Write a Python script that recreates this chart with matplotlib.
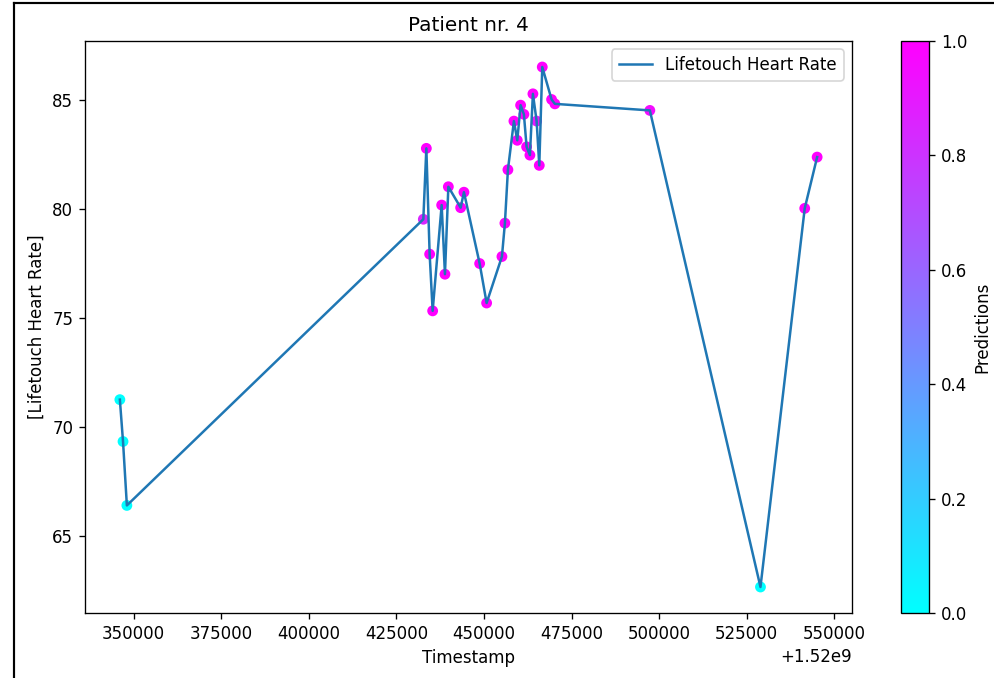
import numpy as np
import matplotlib
matplotlib.use("Agg")
import matplotlib.pyplot as plt
from matplotlib.lines import Line2D

# timestamps (s) and heart rate readings
timestamps = [
    1520346100, 1520347000, 1520348100, 1520432700, 1520433560, 1520434500,
    1520435360, 1520437930, 1520438870, 1520439840, 1520443350, 1520444290,
    1520448770, 1520450760, 1520455130, 1520455980, 1520456840, 1520458550,
    1520459510, 1520460460, 1520461400, 1520462170, 1520463110, 1520463970,
    1520465030, 1520465790, 1520466640, 1520469300, 1520470240, 1520497340,
    1520528910, 1520541540, 1520545080,
]
heart_rate = [
    71.27, 69.35, 66.42, 79.54, 82.79, 77.94,
    75.34, 80.19, 77.02, 81.03, 80.07, 80.78,
    77.51, 75.70, 77.83, 79.36, 81.81, 84.04,
    83.16, 84.77, 84.35, 82.86, 82.48, 85.29,
    84.04, 82.01, 86.52, 85.03, 84.83, 84.53,
    62.68, 80.04, 82.39,
]
predictions = [
    0.0, 0.0, 0.0, 0.85, 1.0, 1.0,
    1.0, 1.0, 1.0, 1.0, 1.0, 1.0,
    1.0, 1.0, 1.0, 1.0, 1.0, 1.0,
    1.0, 1.0, 1.0, 1.0, 1.0, 1.0,
    0.9, 1.0, 1.0, 1.0, 1.0, 0.95,
    0.0, 1.0, 1.0,
]

W, H = 994, 678
dpi = 120
fig = plt.figure(figsize=(W / dpi, H / dpi), dpi=dpi)
ax = fig.add_axes([85 / W, 1 - 613 / H, (852 - 85) / W, (613 - 41) / H])
cax = fig.add_axes([901 / W, 1 - 613 / H, 28 / W, (613 - 41) / H])

sc = ax.scatter(timestamps, heart_rate, c=predictions, cmap="cool", vmin=0, vmax=1, s=30)
ax.plot(timestamps, heart_rate, color="#1f77b4", label="Lifetouch Heart Rate")
ax.legend(loc="upper right")
ax.set_title("Patient nr. 4")
ax.set_xlabel("Timestamp")
ax.set_ylabel("[Lifetouch Heart Rate]")

cb = fig.colorbar(sc, cax=cax)
cb.set_label("Predictions")

# screenshot frame on the left and top edges
fig.add_artist(Line2D([13.5 / W, 13.5 / W], [0, 1 - 2.5 / H], transform=fig.transFigure,
                      color="black", lw=1.3))
fig.add_artist(Line2D([13.5 / W, 1], [1 - 2.5 / H, 1 - 2.5 / H], transform=fig.transFigure,
                      color="black", lw=1.3))

fig.savefig("out.png", dpi=dpi)
